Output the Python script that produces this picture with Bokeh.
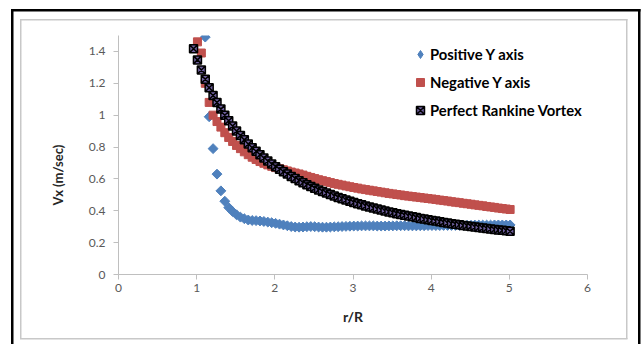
import math
from bokeh.plotting import figure
from bokeh.models import (Range1d, FixedTicker, PrintfTickFormatter, Legend, LegendItem, Title)
from bokeh.embed import file_html
from bokeh.resources import INLINE

# r/R positions (shared grid)
r_vals = [0.96, 1.01, 1.06, 1.11, 1.16, 1.21, 1.26, 1.31, 1.36, 1.41,
          1.46, 1.51, 1.56, 1.61, 1.66, 1.71, 1.76, 1.81, 1.86, 1.91,
          1.96, 2.01, 2.06, 2.11, 2.16, 2.21, 2.26, 2.31, 2.36, 2.41,
          2.46, 2.51, 2.56, 2.61, 2.66, 2.71, 2.76, 2.81, 2.86, 2.91,
          2.96, 3.01, 3.06, 3.11, 3.16, 3.21, 3.26, 3.31, 3.36, 3.41,
          3.46, 3.51, 3.56, 3.61, 3.66, 3.71, 3.76, 3.81, 3.86, 3.91,
          3.96, 4.01, 4.06, 4.11, 4.16, 4.21, 4.26, 4.31, 4.36, 4.41,
          4.46, 4.51, 4.56, 4.61, 4.66, 4.71, 4.76, 4.81, 4.86, 4.91,
          4.96, 5.01]

# Positive Y axis (starts at r = 1.11)
v_positive = [1.49, 0.99, 0.79, 0.63, 0.525, 0.46, 0.42, 0.395, 0.375, 0.36,
              0.35, 0.342, 0.339, 0.338, 0.336, 0.333, 0.329, 0.325, 0.321, 0.316,
              0.311, 0.306, 0.301, 0.298, 0.297, 0.298, 0.300, 0.301, 0.300, 0.298,
              0.297, 0.297, 0.298, 0.299, 0.300, 0.301, 0.302, 0.303, 0.304, 0.304,
              0.305, 0.305, 0.305, 0.305, 0.304, 0.304, 0.304, 0.305, 0.305, 0.306,
              0.306, 0.306, 0.305, 0.305, 0.305, 0.306, 0.306, 0.307, 0.307, 0.307,
              0.307, 0.308, 0.308, 0.308, 0.308, 0.309, 0.309, 0.309, 0.309, 0.310,
              0.310, 0.310, 0.310, 0.310, 0.311, 0.311, 0.311, 0.311, 0.311]

# Negative Y axis (starts at r = 1.01)
v_negative = [1.46, 1.39, 1.20, 1.08, 1.00, 0.96, 0.925, 0.89, 0.86, 0.835,
              0.81, 0.79, 0.77, 0.752, 0.736, 0.722, 0.709, 0.698, 0.688, 0.679,
              0.671, 0.664, 0.657, 0.650, 0.643, 0.637, 0.631, 0.624, 0.616, 0.609,
              0.602, 0.595, 0.589, 0.583, 0.577, 0.571, 0.566, 0.561, 0.556, 0.551,
              0.546, 0.542, 0.537, 0.533, 0.529, 0.525, 0.521, 0.517, 0.513, 0.509,
              0.506, 0.502, 0.499, 0.495, 0.492, 0.489, 0.486, 0.483, 0.480, 0.477,
              0.474, 0.471, 0.467, 0.464, 0.461, 0.457, 0.454, 0.451, 0.447, 0.444,
              0.441, 0.437, 0.434, 0.431, 0.427, 0.424, 0.421, 0.417, 0.414, 0.411,
              0.408]

# Perfect Rankine Vortex (starts at r = 0.96)
v_rankine = [1.417, 1.347, 1.283, 1.225, 1.172, 1.124, 1.079, 1.038, 1.000, 0.965,
             0.932, 0.901, 0.872, 0.845, 0.819, 0.795, 0.773, 0.751, 0.731, 0.712,
             0.694, 0.677, 0.660, 0.645, 0.630, 0.615, 0.602, 0.589, 0.576, 0.564,
             0.553, 0.542, 0.531, 0.521, 0.511, 0.502, 0.493, 0.484, 0.476, 0.467,
             0.459, 0.452, 0.444, 0.437, 0.430, 0.424, 0.417, 0.411, 0.405, 0.399,
             0.393, 0.387, 0.382, 0.377, 0.372, 0.367, 0.362, 0.357, 0.352, 0.348,
             0.343, 0.339, 0.335, 0.331, 0.327, 0.323, 0.319, 0.316, 0.312, 0.308,
             0.305, 0.302, 0.298, 0.295, 0.292, 0.289, 0.286, 0.283, 0.280, 0.277,
             0.274, 0.271]

r_positive = r_vals[3:]
r_negative = r_vals[1:]
r_rankine = r_vals

x_ticks = [0, 1, 2, 3, 4, 5, 6]
y_ticks = [0, 0.2, 0.4, 0.6, 0.8, 1.0, 1.2, 1.4]
series_labels = ["Positive Y axis", "Negative Y axis", "Perfect Rankine Vortex"]

# chart-area frames (outer black, inner light grey) drawn as page background
BLK, GRY = "#000000", "#c8c8c8"
frame_bg = ", ".join([
    f"linear-gradient({BLK},{BLK}) 11px 9px / 2.5px 340px no-repeat",
    f"linear-gradient({BLK},{BLK}) 638px 9px / 2.5px 340px no-repeat",
    f"linear-gradient({BLK},{BLK}) 11px 9px / 629.5px 2.5px no-repeat",
    f"linear-gradient({GRY},{GRY}) 20px 19px / 1.5px 320px no-repeat",
    f"linear-gradient({GRY},{GRY}) 626px 19px / 1.5px 320px no-repeat",
    f"linear-gradient({GRY},{GRY}) 20px 19px / 607.5px 1.5px no-repeat",
    f"linear-gradient({GRY},{GRY}) 20px 337.5px / 607.5px 1.5px no-repeat",
]) + ", #ffffff"

p = figure(width=644, height=344, x_range=Range1d(0, 6), y_range=Range1d(0, 1.5),
           output_backend="svg", toolbar_location=None,
           min_border_left=118, min_border_right=57, min_border_top=35, min_border_bottom=70,
           x_axis_label="r/R")
p.styles = {"background": frame_bg}
p.background_fill_color = "white"
p.border_fill_color = None
p.outline_line_color = None
p.xgrid.visible = False
p.ygrid.visible = False

p.xaxis.ticker = FixedTicker(ticks=x_ticks)
p.yaxis.ticker = FixedTicker(ticks=y_ticks)
for ax in (p.xaxis[0], p.yaxis[0]):
    ax.formatter = PrintfTickFormatter(format="%g")
    ax.axis_line_color = "#bfbfbf"
    ax.major_tick_line_color = "#bfbfbf"
    ax.minor_tick_line_color = None
    ax.major_tick_out = 5
    ax.major_tick_in = 0
    ax.major_label_text_font = "Lato"
    ax.major_label_text_font_size = "12px"
    ax.major_label_text_color = "#595959"
    ax.axis_label_text_font = "Lato"
    ax.axis_label_text_font_style = "bold"
    ax.axis_label_text_font_size = "14px"
    ax.axis_label_text_color = "#262626"
p.yaxis[0].major_label_standoff = 8
p.xaxis[0].major_label_standoff = 4
p.xaxis[0].axis_label_standoff = 13

# y-axis title: starts ~69px above the plot bottom, as in the reference
ytitle = Title(text="Vx (m/sec)", align="left", offset=69, standoff=40,
               text_font="Lato", text_font_style="bold", text_font_size="13px",
               text_color="#262626")
p.add_layout(ytitle, "left")

rb = p.scatter(r_positive, v_positive, marker="square", angle=math.pi / 4, size=7,
               fill_color="#4f81bd", line_color="#4f81bd")
rr = p.scatter(r_negative, v_negative, marker="square", size=8,
               fill_color="#c0504d", line_color="#c0504d")
rk = p.scatter(r_rankine, v_rankine, marker="square_x", size=8,
               fill_color="#6f5f9e", line_color="black", line_width=1.5)
# hidden twin of the diamonds, used only for the legend swatch
rb_key = p.scatter(r_positive, v_positive, marker="diamond", size=9,
                   fill_color="#4f81bd", line_color="#4f81bd", visible=False)

legend = Legend(items=[LegendItem(label=series_labels[0], renderers=[rb_key]),
                       LegendItem(label=series_labels[1], renderers=[rr]),
                       LegendItem(label=series_labels[2], renderers=[rk])],
                location=(292, 153), padding=0, margin=0, spacing=6,
                glyph_width=20, glyph_height=22, label_height=22, label_standoff=0,
                border_line_color=None, background_fill_alpha=0,
                label_text_font="Lato", label_text_font_style="bold",
                label_text_font_size="14.8px", label_text_color="black")
p.add_layout(legend)

open("out.html", "w").write(file_html(p, INLINE))
